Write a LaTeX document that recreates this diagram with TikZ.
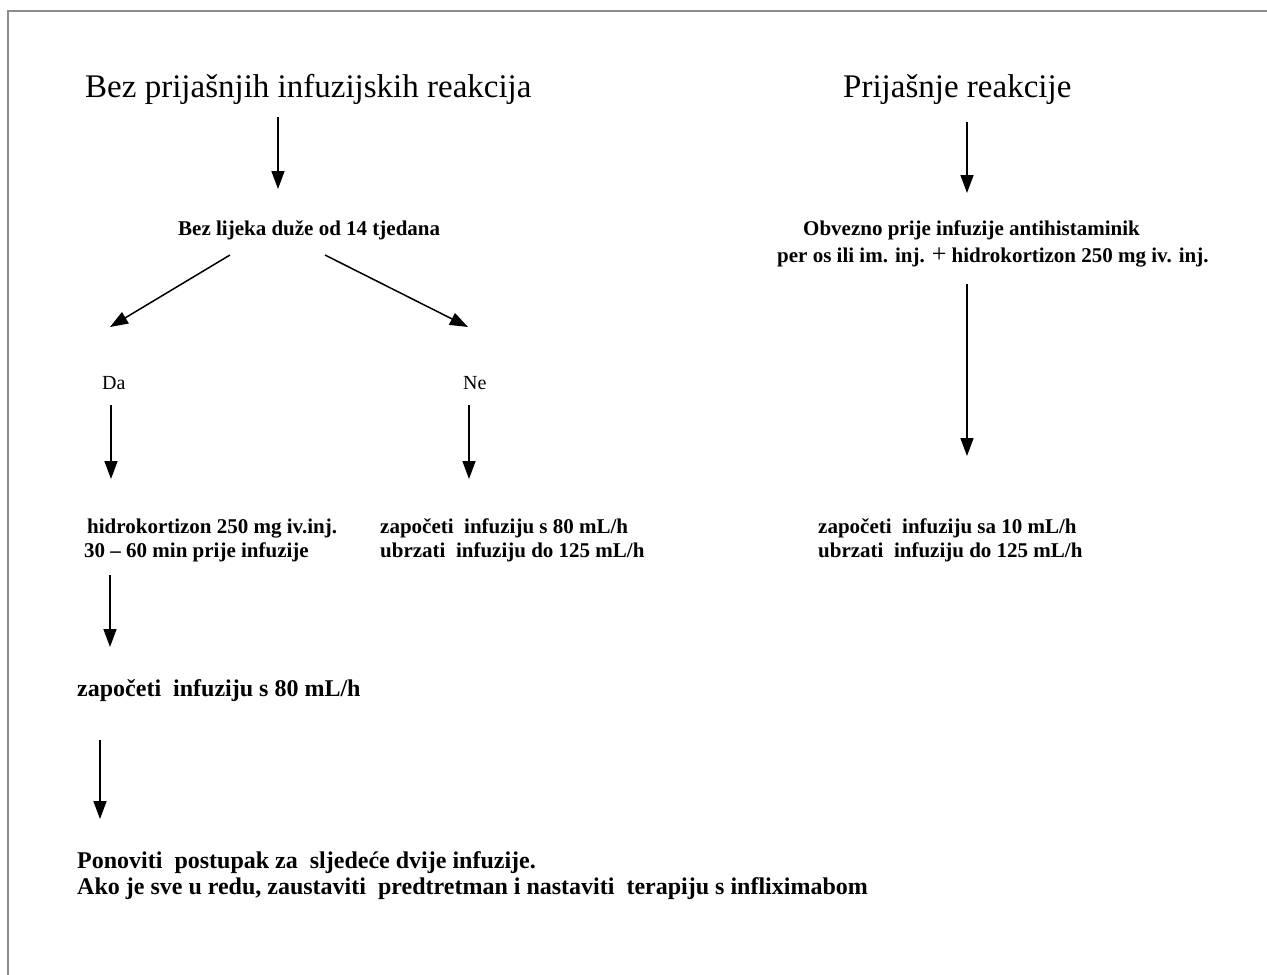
\documentclass[tikz,border=0pt]{standalone}
\usepackage{fontspec}
\setmainfont{Liberation Serif}
\usetikzlibrary{arrows.meta}
\begin{document}
\begin{tikzpicture}[x=1pt,y=-1pt,
  txt/.style={inner sep=0pt,anchor=base west},
  big/.style={txt,font=\fontsize{33}{38}\selectfont},
  lab/.style={txt,font=\fontsize{20}{24}\selectfont},
  bld/.style={txt,font=\fontsize{21}{25}\selectfont\bfseries},
  bldl/.style={txt,font=\fontsize{24}{28}\selectfont\bfseries},
  arr/.style={line width=1.5pt,-{Triangle[length=18pt,width=13pt]}},
  frame/.style={draw=black!45,line width=2pt}]
\useasboundingbox (0,0) rectangle (1267,975);
\draw[frame] (8,975) -- (8,11) -- (1267,11);

% titles
\node[big] (t1) at (85,97) {Bez prijašnjih infuzijskih reakcija};
\node[big] (t2) at (843,97) {Prijašnje reakcije};

% left branch
\node[bld] (q1) at (178,235) {Bez lijeka duže od 14 tjedana};
\node[lab] (da) at (102,389) {Da};
\node[lab] (ne) at (463,389) {Ne};
\node[bld] (h1) at (87,533) {hidrokortizon 250 mg iv.inj.};
\node[bld] (h2) at (84,557) {30 – 60 min prije infuzije};
\node[bld] (n1) at (380,533) {započeti~ infuziju s 80 mL/h};
\node[bld] (n2) at (380,557) {ubrzati~ infuziju do 125 mL/h};
\node[bldl] (z1) at (77,696) {započeti~ infuziju s 80 mL/h};
\node[bldl] (p1) at (77,868) {Ponoviti~ postupak za~ sljedeće dvije infuzije.};
\node[bldl] (p2) at (77,894) {Ako je sve u redu, zaustaviti~ predtretman i nastaviti~ terapiju s infliximabom};

% right branch
\node[bld] (r1) at (803,235) {Obvezno prije infuzije antihistaminik};
\node[bld] (r2) at (777,262) {per os ili im. inj. {\mdseries\fontsize{26}{26}\selectfont +} hidrokortizon 250 mg iv. inj.};
\node[bld] (s1) at (818,533) {započeti~ infuziju sa 10 mL/h};
\node[bld] (s2) at (818,557) {ubrzati~ infuziju do 125 mL/h};

% arrow end points
\coordinate (a1s) at (278,117); \coordinate (a1e) at (278,189);
\coordinate (dls) at (230,255); \coordinate (dle) at (110,327);
\coordinate (drs) at (325,255); \coordinate (dre) at (468,327);
\coordinate (das) at (111,405); \coordinate (dae) at (111,479);
\coordinate (nes) at (469,405); \coordinate (nee) at (469,479);
\coordinate (h3s) at (110,575); \coordinate (h3e) at (110,647);
\coordinate (z2s) at (100,740); \coordinate (z2e) at (100,819);
\coordinate (b1s) at (967,122); \coordinate (b1e) at (967,193);
\coordinate (b2s) at (967,284); \coordinate (b2e) at (967,456);

\draw[arr] (a1s) -- (a1e);
\draw[arr] (dls) -- (dle);
\draw[arr] (drs) -- (dre);
\draw[arr] (das) -- (dae);
\draw[arr] (nes) -- (nee);
\draw[arr] (h3s) -- (h3e);
\draw[arr] (z2s) -- (z2e);
\draw[arr] (b1s) -- (b1e);
\draw[arr] (b2s) -- (b2e);
\end{tikzpicture}
\end{document}
